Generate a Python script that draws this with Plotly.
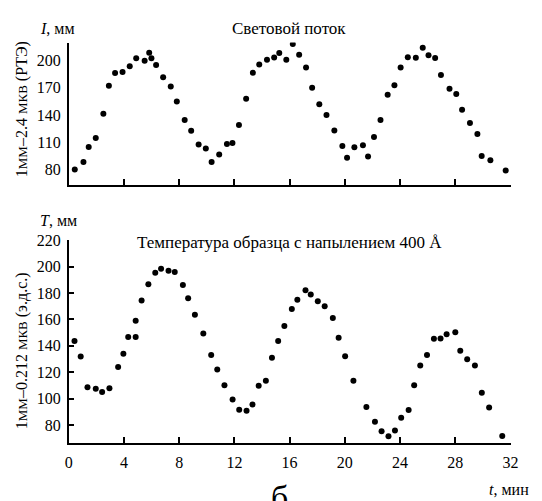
import plotly.graph_objects as go

# Световой поток (top panel)
t_flux = [0.44, 1.07, 1.45, 1.96, 2.51, 2.91, 3.36, 3.90, 4.42, 4.89, 5.50, 5.83, 5.99, 6.33,
          6.84, 7.39, 7.83, 8.40, 8.87, 9.41, 9.93, 10.35, 10.90, 11.46, 11.86, 12.33, 12.85,
          13.34, 13.80, 14.36, 14.88, 15.25, 15.76, 16.23, 16.69, 17.19, 17.63, 18.15, 18.67,
          19.24, 19.82, 20.16, 20.69, 21.31, 21.68, 22.11, 22.58, 23.10, 23.59, 24.04, 24.56,
          25.14, 25.64, 26.06, 26.54, 26.96, 27.58, 28.07, 28.49, 29.06, 29.60, 29.91, 30.54, 31.65]
I_flux = [80.0, 88.3, 104.9, 114.7, 141.4, 172.1, 186.2, 187.3, 193.8, 202.4, 199.9, 208.6, 202.4,
          195.2, 181.5, 171.3, 154.8, 134.5, 122.6, 107.4, 103.1, 88.3, 96.6, 108.2, 109.3, 129.1,
          158.0, 186.5, 195.6, 200.8, 203.3, 208.2, 200.8, 218.1, 206.4, 192.4, 169.9, 151.8, 139.9,
          123.0, 106.0, 93.0, 104.6, 106.8, 94.4, 115.8, 134.5, 162.3, 172.9, 192.4, 203.5, 203.2,
          214.0, 205.7, 202.8, 184.0, 168.8, 163.1, 145.8, 131.2, 119.0, 94.8, 90.1, 78.9]

# Температура образца (bottom panel)
t_temp = [0.42, 0.87, 1.36, 1.96, 2.42, 2.95, 3.58, 3.96, 4.31, 4.85, 4.85, 5.28, 5.77, 6.27,
          6.69, 7.23, 7.68, 8.27, 8.65, 9.14, 9.75, 10.32, 10.76, 11.28, 11.87, 12.35, 12.88,
          13.31, 13.76, 14.28, 14.72, 15.17, 15.62, 16.16, 16.56, 17.15, 17.53, 18.04, 18.54,
          19.13, 19.55, 20.02, 20.62, 21.56, 22.18, 22.66, 23.16, 23.63, 24.08, 24.62, 25.02,
          25.46, 25.95, 26.45, 26.93, 27.37, 28.00, 28.36, 28.86, 29.42, 29.92, 30.45, 31.40]
T_temp = [143.7, 132.0, 108.7, 107.4, 105.0, 107.9, 124.0, 134.0, 146.7, 146.7, 159.1, 174.3,
          186.7, 195.4, 198.4, 196.9, 195.9, 186.2, 176.0, 163.6, 149.4, 133.0, 122.1, 110.2,
          99.4, 91.6, 90.8, 95.6, 109.7, 113.6, 130.9, 143.6, 155.1, 168.0, 175.0, 182.2, 179.0,
          173.8, 170.1, 161.1, 146.2, 132.2, 113.6, 93.6, 82.4, 75.3, 71.4, 75.9, 85.6, 91.4,
          110.2, 125.1, 133.0, 145.4, 145.6, 148.8, 150.4, 136.3, 129.8, 125.1, 104.5, 93.2, 71.6]

x_ticks = [0, 4, 8, 12, 16, 20, 24, 28, 32]
y_ticks_top = [80, 110, 140, 170, 200]
y_ticks_bottom = [80, 100, 120, 140, 160, 180, 200, 220]

# page has an 8px body margin; the figure is sized so it ends at the window edge
OFF = 8
W, H = 542 - OFF, 501 - OFF
FONT = "Liberation Serif"

def px(x):
    return (x - OFF) / W

def py(y):
    return 1 - (y - OFF) / H

fig = go.Figure()
fig.add_trace(go.Scatter(x=t_flux, y=I_flux, mode="markers", xaxis="x", yaxis="y",
                         marker=dict(color="black", size=6), showlegend=False))
fig.add_trace(go.Scatter(x=t_temp, y=T_temp, mode="markers", xaxis="x2", yaxis="y2",
                         marker=dict(color="black", size=6), showlegend=False))

xdom = [px(66), px(518)]
top_dom = [py(180), py(35)]
bot_dom = [py(442), py(236)]

axis_common = dict(showline=True, linecolor="black", linewidth=1.5, showgrid=False,
                   zeroline=False, tickfont=dict(family=FONT, size=16, color="black"))

fig.update_layout(
    width=W, height=H, margin=dict(l=0, r=0, t=0, b=0),
    paper_bgcolor="white", plot_bgcolor="white",
    xaxis=dict(domain=xdom, anchor="y", range=[0, 32], tickvals=x_ticks, showticklabels=False,
               ticks="inside", ticklen=6, tickwidth=1.5, tickcolor="black", **axis_common),
    yaxis=dict(domain=top_dom, anchor="x", range=[62.7, 219.8], tickvals=y_ticks_top,
               ticks="", ticklabelstandoff=3, **axis_common),
    xaxis2=dict(domain=xdom, anchor="y2", range=[0, 32], tickvals=x_ticks,
                ticks="inside", ticklen=6, tickwidth=1.5, tickcolor="black",
                ticklabelstandoff=4, **axis_common),
    yaxis2=dict(domain=bot_dom, anchor="x2", range=[66.4, 220], tickvals=y_ticks_bottom,
                ticks="inside", ticklen=6, tickwidth=1.5, tickcolor="black",
                ticklabelstandoff=3, **axis_common),
)

def ann(text, x, y, size=15, angle=0, xanchor="center", yanchor="middle"):
    fig.add_annotation(text=text, x=px(x), y=py(y), xref="paper", yref="paper",
                       showarrow=False, textangle=angle, xanchor=xanchor, yanchor=yanchor,
                       font=dict(family=FONT, size=size, color="black"))

ann("Световой поток", 291, 21, size=17)
ann("Температура образца с напылением 400 Å", 292, 238, size=17)
ann("<i>I</i>, мм", 35, 21, size=16, xanchor="left")
ann("<i>T</i>, мм", 35, 216, size=16, xanchor="left")
ann("1<span style='font-size:13px'>ММ</span>–2.4 <span style='font-size:13px'>МКВ</span> (РТЭ)",
    19, 103, size=16, angle=-90)
ann("1<span style='font-size:13px'>ММ</span>–0.212 <span style='font-size:13px'>МКВ</span> (э.д.с.)",
    19, 348, size=16, angle=-90)
ann("<i>t</i>, мин", 539, 489, size=16, xanchor="right")
ann("б", 282, 497, size=34, yanchor="middle")

fig.write_html("out.html")
